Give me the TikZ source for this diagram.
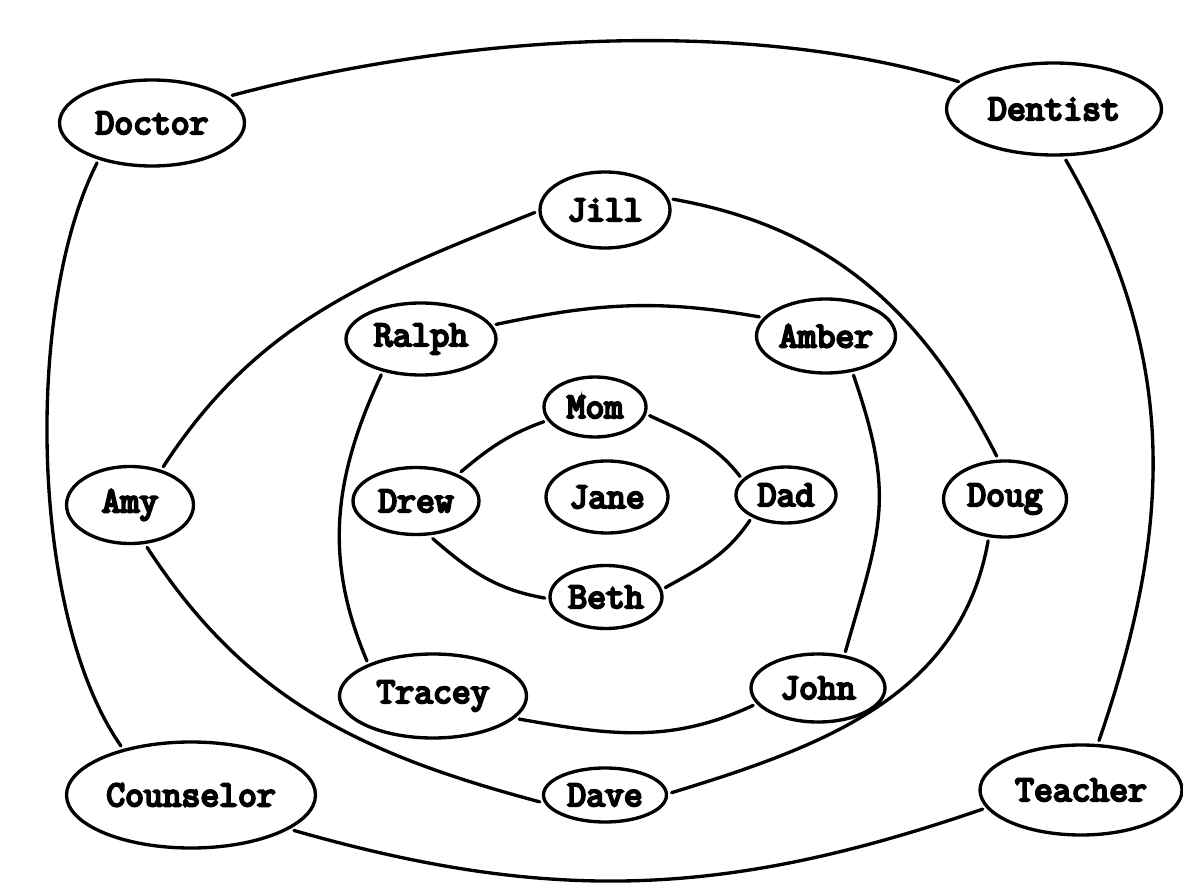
\documentclass[tikz,border=0pt]{standalone}
\usepackage{fontspec}
\usepackage{tikz}
\usetikzlibrary{shapes.geometric}
\newfontfamily\namefont{Latin Modern Mono}[FakeBold=6]
\tikzset{
  pers/.style ={ellipse, draw, line width=1.9pt, inner sep=0pt, outer sep=3pt,
                font=\namefont\bfseries\fontsize{20.8}{24}\selectfont},
  esize/.style 2 args={minimum width=#1*0.02cm, minimum height=#2*0.02cm},
  tie/.style  ={line width=1.9pt, line cap=round},
}

\begin{document}
\begin{tikzpicture}[x=0.02cm, y=0.02cm]
  \useasboundingbox (0,0) rectangle (1183,890);
  % outer ring
  \node[pers, esize={185}{86}]  (doctor)    at (152,767)  {Doctor};
  \node[pers, esize={215}{92}]  (dentist)   at (1054,781) {Dentist};
  \node[pers, esize={202}{90}]  (teacher)   at (1081,100) {Teacher};
  \node[pers, esize={249}{106}] (counselor) at (191,95)   {Counselor};
  % second ring
  \node[pers, esize={130}{76}]  (jill)   at (605,680)  {Jill};
  \node[pers, esize={123}{76}]  (doug)   at (1005,391) {Doug};
  \node[pers, esize={123}{54}]  (dave)   at (605,95)   {Dave};
  \node[pers, esize={127}{77}]  (amy)    at (130,385)  {Amy};
  % third ring
  \node[pers, esize={150}{72}]  (ralph)  at (421,551)  {Ralph};
  \node[pers, esize={139}{74}]  (amber)  at (826,554)  {Amber};
  \node[pers, esize={134}{68}]  (john)   at (818,202)  {John};
  \node[pers, esize={187}{84}]  (tracey) at (433,194)  {Tracey};
  % inner ring
  \node[pers, esize={102}{60}]  (mom)    at (595,483)  {Mom};
  \node[pers, esize={100}{56}]  (dad)    at (786,395)  {Dad};
  \node[pers, esize={112}{63}]  (beth)   at (606,293)  {Beth};
  \node[pers, esize={126}{67}]  (drew)   at (416,389)  {Drew};
  \node[pers, esize={122}{72}]  (jane)   at (607,393)  {Jane};

  \draw[tie] (doctor.19)    to[out=15,in=163,looseness=.8] (dentist.164);
  \draw[tie] (dentist.-77)  to[out=-60,in=71] (teacher.70);
  \draw[tie] (teacher.191)  to[out=199,in=-16] (counselor.-19);
  \draw[tie] (counselor.145) to[out=125,in=-117,looseness=.7] (doctor.216);

  \draw[tie] (jill.9)     to[out=-10,in=117] (doug.101);
  \draw[tie] (doug.-112)  to[out=-100,in=17] (dave.2);
  \draw[tie] (dave.186)   to[out=165,in=-57] (amy.-68);
  \draw[tie] (amy.49)     to[out=57,in=202] (jill.182);

  \draw[tie] (ralph.11)   to[out=12,in=170] (amber.164);
  \draw[tie] (amber.-55)  to[out=-71,in=74,looseness=1.2] (john.53);
  \draw[tie] (john.195)   to[out=205,in=-10] (tracey.-15);
  \draw[tie] (tracey.152) to[out=113,in=-115] (ralph.222);

  \draw[tie] (drew.33)   to[out=40,in=200] (mom.196);
  \draw[tie] (mom.-9)    to[out=-25,in=128] (dad.158);
  \draw[tie] (dad.215)   to[out=-124,in=29] (beth.9);
  \draw[tie] (beth.181)  to[out=170,in=-41] (drew.-66);
\end{tikzpicture}
\end{document}
